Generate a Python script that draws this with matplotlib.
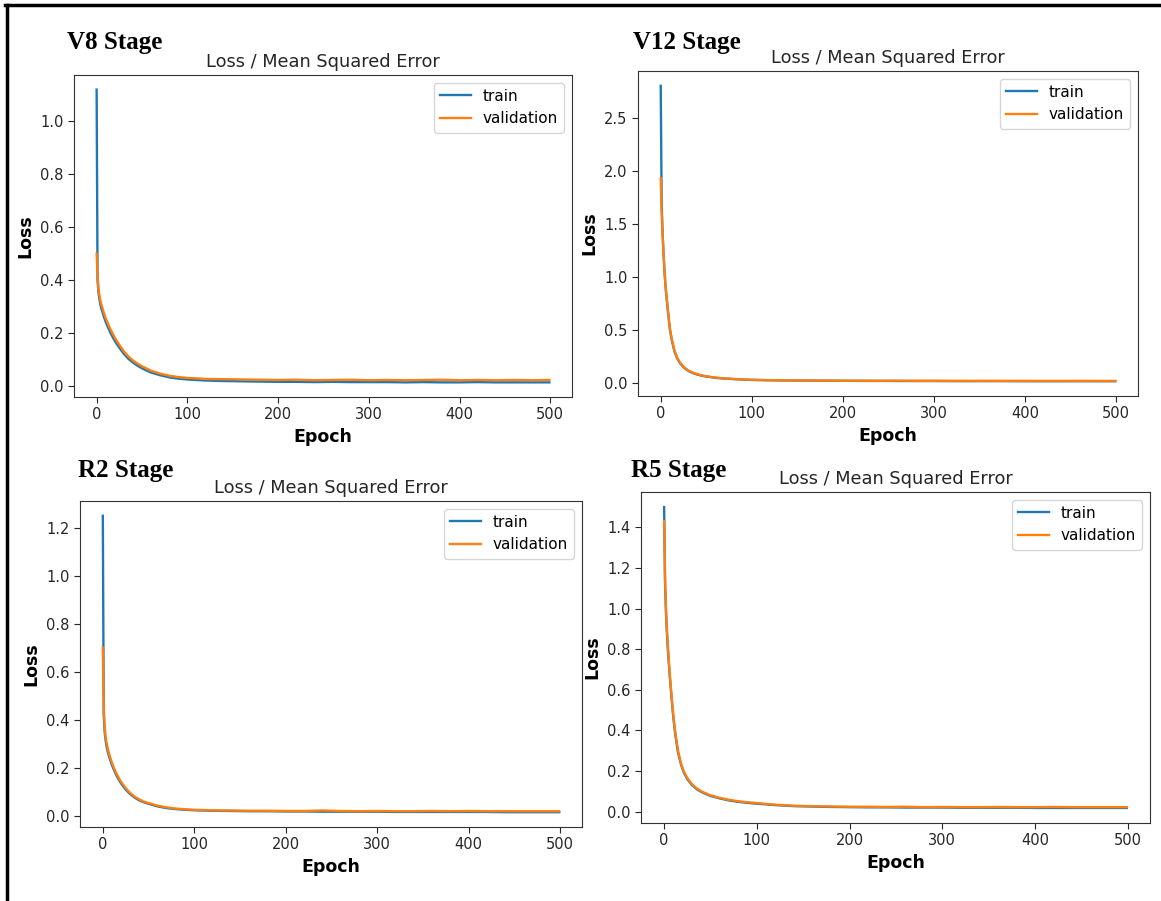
import matplotlib
matplotlib.use("Agg")
import matplotlib.pyplot as plt
from matplotlib.lines import Line2D

# ---- data ----
EPOCHS = [0, 1, 2, 3, 4, 5, 6, 8, 10, 12, 15, 18, 21, 25, 30, 35, 40, 45, 50,
          60, 70, 80, 90, 100, 120, 140, 160, 180, 200, 220, 240, 260, 280,
          300, 320, 340, 360, 380, 400, 420, 440, 460, 480, 499]

v8_train = [1.12, 0.40, 0.355, 0.33, 0.31, 0.295, 0.285, 0.262, 0.242, 0.226,
            0.203, 0.183, 0.165, 0.145, 0.122, 0.103, 0.089, 0.077, 0.067,
            0.051, 0.041, 0.033, 0.028, 0.025, 0.021, 0.019, 0.018, 0.017,
            0.016, 0.016, 0.015, 0.016, 0.015, 0.015, 0.015, 0.014, 0.015,
            0.014, 0.014, 0.015, 0.014, 0.014, 0.014, 0.014]
v8_val = [0.50, 0.42, 0.37, 0.345, 0.325, 0.31, 0.30, 0.276, 0.256, 0.24,
          0.216, 0.196, 0.177, 0.156, 0.131, 0.112, 0.097, 0.085, 0.075,
          0.058, 0.047, 0.039, 0.034, 0.031, 0.027, 0.026, 0.025, 0.024,
          0.023, 0.024, 0.022, 0.023, 0.024, 0.022, 0.023, 0.022, 0.023,
          0.024, 0.022, 0.023, 0.022, 0.023, 0.022, 0.023]

v12_train = [2.80, 1.70, 1.42, 1.23, 1.07, 0.94, 0.84, 0.67, 0.51, 0.41,
             0.30, 0.235, 0.19, 0.15, 0.116, 0.096, 0.081, 0.07, 0.062,
             0.05, 0.043, 0.038, 0.033, 0.030, 0.027, 0.025, 0.024, 0.023,
             0.022, 0.021, 0.021, 0.020, 0.020, 0.020, 0.019, 0.019, 0.019,
             0.019, 0.018, 0.018, 0.018, 0.018, 0.018, 0.018]
v12_val = [1.93, 1.62, 1.40, 1.24, 1.08, 0.95, 0.85, 0.68, 0.52, 0.42,
           0.31, 0.24, 0.195, 0.155, 0.12, 0.10, 0.085, 0.073, 0.065,
           0.053, 0.045, 0.040, 0.035, 0.032, 0.028, 0.026, 0.025, 0.024,
           0.023, 0.023, 0.022, 0.023, 0.022, 0.022, 0.022, 0.021, 0.022,
           0.021, 0.022, 0.021, 0.021, 0.022, 0.021, 0.021]

r2_train = [1.25, 0.42, 0.35, 0.315, 0.29, 0.272, 0.258, 0.232, 0.21, 0.192,
            0.166, 0.146, 0.128, 0.108, 0.089, 0.074, 0.063, 0.055, 0.049,
            0.038, 0.031, 0.027, 0.024, 0.022, 0.020, 0.019, 0.018, 0.018,
            0.017, 0.017, 0.016, 0.016, 0.016, 0.016, 0.015, 0.015, 0.015,
            0.015, 0.015, 0.015, 0.014, 0.014, 0.014, 0.014]
r2_val = [0.70, 0.45, 0.37, 0.33, 0.305, 0.287, 0.27, 0.243, 0.22, 0.20,
          0.174, 0.153, 0.135, 0.114, 0.094, 0.078, 0.067, 0.058, 0.052,
          0.041, 0.034, 0.029, 0.026, 0.024, 0.022, 0.021, 0.020, 0.020,
          0.019, 0.019, 0.021, 0.019, 0.018, 0.019, 0.018, 0.018, 0.019,
          0.018, 0.019, 0.018, 0.018, 0.018, 0.018, 0.018]

r5_train = [1.50, 1.12, 0.98, 0.88, 0.80, 0.735, 0.67, 0.56, 0.46, 0.38,
            0.29, 0.235, 0.195, 0.16, 0.131, 0.111, 0.097, 0.087, 0.077,
            0.065, 0.055, 0.048, 0.043, 0.039, 0.032, 0.027, 0.025, 0.023,
            0.022, 0.021, 0.021, 0.020, 0.020, 0.020, 0.019, 0.019, 0.019,
            0.019, 0.018, 0.018, 0.018, 0.018, 0.018, 0.018]
r5_val = [1.43, 1.15, 1.00, 0.90, 0.82, 0.75, 0.68, 0.57, 0.47, 0.39,
          0.30, 0.24, 0.20, 0.165, 0.135, 0.115, 0.10, 0.09, 0.08,
          0.068, 0.058, 0.051, 0.046, 0.042, 0.034, 0.029, 0.027, 0.025,
          0.024, 0.024, 0.023, 0.024, 0.022, 0.023, 0.022, 0.022, 0.023,
          0.022, 0.022, 0.023, 0.022, 0.022, 0.022, 0.022]

STAGES = ["V8 Stage", "V12 Stage", "R2 Stage", "R5 Stage"]
TRAIN = [v8_train, v12_train, r2_train, r5_train]
VAL = [v8_val, v12_val, r2_val, r5_val]
YTICKS = [[0.0, 0.2, 0.4, 0.6, 0.8, 1.0],
          [0.0, 0.5, 1.0, 1.5, 2.0, 2.5],
          [0.0, 0.2, 0.4, 0.6, 0.8, 1.0, 1.2],
          [0.0, 0.2, 0.4, 0.6, 0.8, 1.0, 1.2, 1.4]]
XTICKS = [0, 100, 200, 300, 400, 500]
TITLE = "Loss / Mean Squared Error"

# ---- layout (pixel boxes: left, right, top, bottom) ----
W, H = 1161, 901
BOXES = [(74, 572, 75, 397), (638, 1138, 71, 396),
         (80, 582, 501, 827), (641, 1150, 492, 823)]
STAGE_POS = [(67, 42), (633, 42), (78, 470), (631, 470)]

fig = plt.figure(figsize=(W / 100, H / 100), dpi=100)
fig.patch.set_facecolor("white")

TXT = "#262626"
for i in range(4):
    l, r, t, b = BOXES[i]
    ax = fig.add_axes([l / W, 1 - b / H, (r - l) / W, (b - t) / H])
    ax.plot(EPOCHS, TRAIN[i], color="#1f77b4", lw=1.7, label="train")
    ax.plot(EPOCHS, VAL[i], color="#ff7f0e", lw=1.7, label="validation")
    ax.set_title(TITLE, fontsize=12.8, color=TXT, pad=6)
    ax.set_xlabel("Epoch", fontsize=12.5, fontweight="bold", color="black")
    ax.set_ylabel("Loss", fontsize=12.5, fontweight="bold", color="black")
    ax.set_xticks(XTICKS)
    ax.set_yticks(YTICKS[i])
    ax.set_yticklabels([f"{v:.1f}" for v in YTICKS[i]])
    ax.tick_params(labelsize=10.5, colors=TXT, length=4)
    for sp in ax.spines.values():
        sp.set_color("#333333")
    ax.legend(loc="upper right", fontsize=11)
    sx, sy = STAGE_POS[i]
    fig.text(sx / W, 1 - sy / H, STAGES[i], fontsize=18, fontweight="bold",
             family="Liberation Serif", ha="left", va="center")

# outer frame (top and left)
fig.add_artist(Line2D([5 / W, 1.0], [1 - 5 / H, 1 - 5 / H], color="black", lw=2.5,
                      transform=fig.transFigure))
fig.add_artist(Line2D([6.5 / W, 6.5 / W], [0, 1 - 5 / H], color="black", lw=2.5,
                      transform=fig.transFigure))

fig.savefig("out.png", dpi=100)
